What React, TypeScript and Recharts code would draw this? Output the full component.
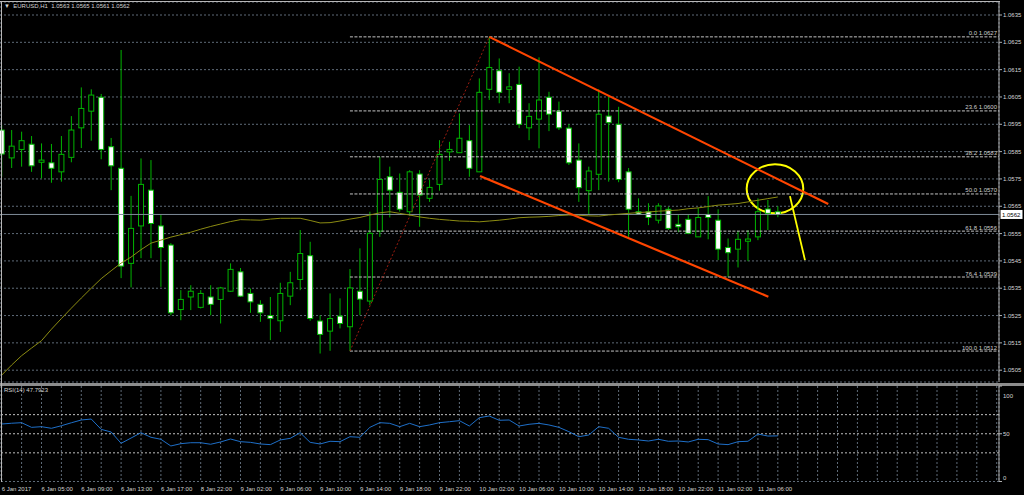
import React from 'react';
import {
  ComposedChart, Bar, Line, XAxis, YAxis, CartesianGrid,
  ReferenceLine, ReferenceDot, ReferenceArea,
} from 'recharts';

// ---------- data (EURUSD H1) ----------
const opens = [
  1.05929, 1.05827, 1.05858, 1.05877, 1.05811, 1.05809, 1.05776, 1.05829, 1.05937, 1.05998,
  1.06049, 1.05868, 1.05789, 1.05441, 1.05578, 1.05709, 1.05578, 1.05508, 1.05272, 1.05318,
  1.05280, 1.05318, 1.05309, 1.05339, 1.05410, 1.05331, 1.05291, 1.05250, 1.05231, 1.05321,
  1.05382, 1.05469, 1.05230, 1.05193, 1.05248, 1.05209, 1.05339, 1.05303, 1.05559, 1.05758,
  1.05701, 1.05630, 1.05768, 1.05679, 1.05730, 1.05849, 1.05846, 1.05890, 1.05776, 1.06078,
  1.06146, 1.06078, 1.06096, 1.05937, 1.05969, 1.06049, 1.05998, 1.05936, 1.05819, 1.05707,
  1.05767, 1.05980, 1.05950, 1.05776, 1.05630, 1.05630, 1.05599, 1.05639, 1.05584, 1.05602,
  1.05538, 1.05620, 1.05599, 1.05499, 1.05493, 1.05522, 1.05538, 1.05640, 1.05630,
];
const highs = [
  1.05947, 1.05929, 1.05923, 1.05907, 1.05880, 1.05878, 1.05907, 1.05980, 1.06085, 1.06078,
  1.06061, 1.05900, 1.06222, 1.05688, 1.05825, 1.05819, 1.05618, 1.05515, 1.05343, 1.05361,
  1.05343, 1.05361, 1.05355, 1.05441, 1.05424, 1.05349, 1.05306, 1.05318, 1.05370, 1.05410,
  1.05563, 1.05520, 1.05251, 1.05331, 1.05313, 1.05420, 1.05496, 1.05630, 1.05831, 1.05795,
  1.05770, 1.05782, 1.05782, 1.05748, 1.05892, 1.05886, 1.05990, 1.05947, 1.06118, 1.06270,
  1.06191, 1.06137, 1.06161, 1.06027, 1.06195, 1.06069, 1.06033, 1.05951, 1.05880, 1.05795,
  1.06078, 1.06051, 1.06014, 1.05790, 1.05679, 1.05661, 1.05661, 1.05648, 1.05618, 1.05618,
  1.05644, 1.05687, 1.05639, 1.05532, 1.05559, 1.05563, 1.05679, 1.05673, 1.05650,
];
const lows = [
  1.05758, 1.05790, 1.05795, 1.05776, 1.05752, 1.05736, 1.05740, 1.05811, 1.05863, 1.05890,
  1.05822, 1.05709, 1.05387, 1.05353, 1.05460, 1.05460, 1.05355, 1.05251, 1.05233, 1.05270,
  1.05276, 1.05251, 1.05221, 1.05337, 1.05318, 1.05260, 1.05227, 1.05160, 1.05190, 1.05288,
  1.05343, 1.05231, 1.05111, 1.05121, 1.05203, 1.05120, 1.05251, 1.05288, 1.05538, 1.05609,
  1.05630, 1.05614, 1.05575, 1.05666, 1.05707, 1.05816, 1.05845, 1.05758, 1.05775, 1.06039,
  1.06027, 1.06027, 1.05936, 1.05892, 1.05862, 1.05925, 1.05929, 1.05801, 1.05666, 1.05618,
  1.05709, 1.05740, 1.05738, 1.05538, 1.05618, 1.05581, 1.05587, 1.05563, 1.05555, 1.05548,
  1.05538, 1.05529, 1.05453, 1.05392, 1.05426, 1.05449, 1.05526, 1.05563, 1.05610,
];
const closes = [
  1.05841, 1.05870, 1.05890, 1.05798, 1.05819, 1.05789, 1.05840, 1.05929, 1.06008, 1.06057,
  1.05858, 1.05798, 1.05431, 1.05569, 1.05730, 1.05587, 1.05499, 1.05260, 1.05309, 1.05339,
  1.05331, 1.05291, 1.05351, 1.05419, 1.05321, 1.05300, 1.05260, 1.05239, 1.05331, 1.05370,
  1.05477, 1.05239, 1.05181, 1.05239, 1.05221, 1.05351, 1.05310, 1.05551, 1.05748, 1.05709,
  1.05639, 1.05776, 1.05691, 1.05719, 1.05840, 1.05858, 1.05899, 1.05789, 1.06067, 1.06158,
  1.06067, 1.06087, 1.05950, 1.05979, 1.06039, 1.05987, 1.05937, 1.05809, 1.05718, 1.05779,
  1.05987, 1.05956, 1.05748, 1.05639, 1.05621, 1.05609, 1.05651, 1.05569, 1.05575, 1.05551,
  1.05609, 1.05609, 1.05493, 1.05480, 1.05529, 1.05530, 1.05630, 1.05624, 1.05620,
];
const maValues = [
  1.05032, 1.05069, 1.05103, 1.05131, 1.05158, 1.05200, 1.05239, 1.05277, 1.05314, 1.05350,
  1.05385, 1.05414, 1.05442, 1.05464, 1.05491, 1.05515, 1.05526, 1.05537, 1.05546, 1.05555,
  1.05566, 1.05576, 1.05585, 1.05594, 1.05601, 1.05600, 1.05599, 1.05603, 1.05606, 1.05606,
  1.05606, 1.05598, 1.05589, 1.05590, 1.05596, 1.05603, 1.05609, 1.05618, 1.05626, 1.05630,
  1.05624, 1.05618, 1.05611, 1.05606, 1.05602, 1.05599, 1.05596, 1.05595, 1.05593, 1.05596,
  1.05599, 1.05603, 1.05608, 1.05610, 1.05611, 1.05613, 1.05616, 1.05618, 1.05617, 1.05615,
  1.05614, 1.05618, 1.05621, 1.05624, 1.05627, 1.05629, 1.05632, 1.05634, 1.05636, 1.05641,
  1.05644, 1.05649, 1.05654, 1.05657, 1.05660, 1.05666, 1.05672, 1.05678, 1.05684,
];
const rsiValues = [
  60.2, 61.0, 61.6, 56.7, 57.4, 55.7, 58.4, 61.5, 64.4, 65.4,
  54.6, 51.8, 40.0, 45.5, 51.1, 46.3, 44.2, 37.2, 39.6, 40.6,
  40.6, 39.0, 41.4, 44.5, 41.7, 41.0, 39.3, 38.6, 43.5, 45.2,
  51.1, 41.0, 39.3, 42.1, 41.7, 46.9, 46.3, 56.7, 61.6, 60.9,
  57.4, 60.9, 57.4, 59.2, 61.6, 62.6, 63.7, 58.1, 66.8, 68.6,
  64.1, 64.4, 58.1, 59.9, 60.9, 59.2, 56.7, 52.2, 46.9, 48.7,
  57.4, 55.7, 46.3, 44.2, 43.5, 42.4, 44.2, 42.1, 42.4, 41.4,
  44.2, 43.8, 39.3, 38.6, 41.7, 42.1, 49.7, 47.6, 47.79,
];
const timeLabels = [
  '6 Jan 2017', '6 Jan 05:00', '6 Jan 09:00', '6 Jan 13:00', '6 Jan 17:00',
  '8 Jan 22:00', '9 Jan 02:00', '9 Jan 06:00', '9 Jan 10:00', '9 Jan 14:00',
  '9 Jan 18:00', '9 Jan 22:00', '10 Jan 02:00', '10 Jan 06:00', '10 Jan 10:00',
  '10 Jan 14:00', '10 Jan 18:00', '10 Jan 22:00', '11 Jan 02:00', '11 Jan 06:00',
];
const timeLabelBars = [0, 4, 8, 12, 16, 20, 24, 28, 32, 36, 40, 44, 48, 52, 56, 60, 64, 68, 72, 76];
const priceTicks = [1.0505, 1.0515, 1.0525, 1.0535, 1.0545, 1.0555, 1.0565, 1.0575, 1.0585, 1.0595, 1.0605, 1.0615, 1.0625, 1.0635];
const gridBars = [0, 2, 4, 6, 8, 10, 12, 14, 16, 18, 20, 22, 24, 26, 28, 30, 32, 34, 36, 38, 40, 42, 44, 46, 48, 50,
  52, 54, 56, 58, 60, 62, 64, 66, 68, 70, 72, 74, 76, 78, 80, 82, 84, 86, 88, 90, 92, 94, 96, 98, 100];
const rsiTicks = [0, 30, 50, 70, 100];
const rsiLevels = [70, 50, 30];

// Fibonacci retracement (from bar 35 low to bar 49 high)
const fibStartBar = 35;
const fibEndBar = 49;
const fibLevelNames = ['0.0', '23.6', '38.2', '50.0', '61.8', '76.4', '100.0'];
const fibLevelPrices = [1.0627, 1.05999, 1.05831, 1.05695, 1.05559, 1.05391, 1.0512];
const fibLevelTexts = ['1.0627', '1.0600', '1.0583', '1.0570', '1.0556', '1.0539', '1.0512'];

// hand-drawn objects (bar index, price)
const upperTrend = [{ x: 49, y: 1.0627 }, { x: 83.07, y: 1.05658 }];
const lowerTrend = [{ x: 48.07, y: 1.05761 }, { x: 77.05, y: 1.05319 }];
const ellipseBox = { x1: 74.87, x2: 80.56, y1: 1.05624, y2: 1.05804 };
const arrowLine = [{ x: 79.22, y: 1.05687 }, { x: 80.73, y: 1.05453 }];

const lastQuote = ['1.0563', '1.0565', '1.0561', '1.0562'];
const lastPrice = 1.0562;
const rsiTitle = 'RSI(14) 47.7923';

const XMIN = -0.17;
const XMAX = 100.23;
const PMIN = 1.050068;
const PMAX = 1.063976;

const rows = opens.map((o, i) => ({
  idx: i,
  open: o,
  high: highs[i],
  low: lows[i],
  close: closes[i],
  range: [lows[i], highs[i]],
  ma: maValues[i],
  rsi: rsiValues[i],
}));

const labelAt: Record<number, string> = {};
timeLabelBars.forEach((b, i) => { labelAt[b] = timeLabels[i]; });

const FONT = '"Liberation Sans", Arial, sans-serif';
const TXT = '#d4d4d4';
const GRID = '#5f6b78';
const CANDLE_LINE = '#00b400';

const Candle = (props: any) => {
  const { x, y, width, height, payload } = props;
  if (!payload || x == null || y == null) return null;
  const cx = x + width / 2;
  const top = Math.min(y, y + height);
  const bot = Math.max(y, y + height);
  const span = payload.high - payload.low || 1e-9;
  const toPx = (v: number) => top + ((payload.high - v) / span) * (bot - top);
  const yo = toPx(payload.open);
  const yc = toPx(payload.close);
  const bull = payload.close >= payload.open;
  const bt = Math.min(yo, yc);
  const bb = Math.max(yo, yc);
  const bw = 5;
  return (
    <g>
      <line x1={cx} x2={cx} y1={top} y2={bot} stroke={CANDLE_LINE} strokeWidth={1} />
      <rect x={cx - bw / 2} y={bt} width={bw} height={Math.max(bb - bt, 0.8)}
        fill={bull ? '#000000' : '#ffffff'} stroke={CANDLE_LINE} strokeWidth={1} />
    </g>
  );
};

const TimeTick = (props: any) => {
  const { x, y, payload } = props;
  const label = labelAt[payload.value];
  if (!label) return <g />;
  return (
    <text x={x} y={y + 6} fill={TXT} fontSize={6} fontFamily={FONT} textAnchor="start">{label}</text>
  );
};

const RsiTick = (props: any) => {
  const { x, y, payload } = props;
  const v = payload.value;
  const dy = v === 100 ? 3.3 : v === 0 ? -3.8 : 0;
  return (
    <text x={x} y={y + dy} dy="0.35em" fill={TXT} fontSize={6} fontFamily={FONT} textAnchor="start">{v}</text>
  );
};

export default function App() {
  return (
    <div style={{ position: 'absolute', left: 0, top: 0, width: 1024, height: 495, background: '#000', overflow: 'hidden', fontFamily: FONT }}>
      {/* main price chart */}
      <div style={{ position: 'absolute', left: 0, top: 0 }}>
        <ComposedChart width={1024} height={384} data={rows} margin={{ top: 2, right: 0, bottom: 2, left: 0 }}>
          <CartesianGrid stroke={GRID} strokeDasharray="2 2" />
          <XAxis dataKey="idx" type="number" domain={[XMIN, XMAX]} allowDataOverflow ticks={gridBars}
            height={0} tick={false} tickLine={false} axisLine={false} />
          <YAxis orientation="right" type="number" domain={[PMIN, PMAX]} allowDataOverflow ticks={priceTicks}
            width={25} tickSize={3} tickMargin={1} stroke="#b0b0b0"
            tick={{ fill: TXT, fontSize: 6, fontFamily: FONT }}
            tickFormatter={(v: number) => v.toFixed(4)} />
          {/* Fibonacci levels */}
          {fibLevelPrices.map((p, i) => (
            <ReferenceLine key={'fib' + i} segment={[{ x: fibStartBar, y: p }, { x: XMAX, y: p }]}
              stroke="#c4c4c4" strokeDasharray="3 1.5" ifOverflow="visible" />
          ))}
          <ReferenceLine segment={[{ x: fibStartBar, y: fibLevelPrices[6] }, { x: fibEndBar, y: fibLevelPrices[0] }]}
            stroke="#9a1c10" strokeDasharray="2 2" ifOverflow="visible" />
          {/* bid line */}
          <ReferenceLine y={lastPrice} stroke="#7f8b98" strokeWidth={1} />
          <Line dataKey="ma" stroke="#8c8c12" strokeWidth={1} dot={false} isAnimationActive={false} />
          <Bar dataKey="range" barSize={6} shape={<Candle />} isAnimationActive={false} />
          {/* trend channel */}
          <ReferenceLine segment={upperTrend} stroke="#ff4500" strokeWidth={2.2} ifOverflow="visible" />
          <ReferenceLine segment={lowerTrend} stroke="#ff4500" strokeWidth={2.2} ifOverflow="visible" />
          <ReferenceArea x1={ellipseBox.x1} x2={ellipseBox.x2} y1={ellipseBox.y1} y2={ellipseBox.y2}
            ifOverflow="visible"
            shape={(p: any) => (
              <ellipse cx={p.x + p.width / 2} cy={p.y + p.height / 2} rx={Math.abs(p.width) / 2}
                ry={Math.abs(p.height) / 2} fill="none" stroke="#ffff00" strokeWidth={2} />
            )} />
          <ReferenceLine segment={arrowLine} stroke="#ffff00" strokeWidth={1.8} ifOverflow="visible" />
          {/* fib labels */}
          {fibLevelPrices.map((p, i) => (
            <ReferenceDot key={'fl' + i} x={XMAX} y={p} r={0} ifOverflow="visible"
              shape={(d: any) => (
                <text x={d.cx - 2} y={d.cy - 1.5} fill="#cfcfcf" fontSize={6} fontFamily={FONT} textAnchor="end">
                  {fibLevelNames[i] + ' ' + fibLevelTexts[i]}
                </text>
              )} />
          ))}
          {/* current price box */}
          <ReferenceDot x={XMAX} y={lastPrice} r={0} ifOverflow="visible"
            shape={(d: any) => (
              <g>
                <rect x={d.cx + 1.5} y={d.cy - 4.5} width={22} height={9} fill="#ffffff" />
                <text x={d.cx + 3} y={d.cy} dy="0.35em" fill="#000" fontSize={6} fontFamily={FONT}>{lastQuote[3]}</text>
              </g>
            )} />
        </ComposedChart>
      </div>

      {/* separator */}
      <div style={{ position: 'absolute', left: 0, top: 382.5, width: 1024, height: 3, background: '#8c8c8c' }} />

      {/* RSI panel */}
      <div style={{ position: 'absolute', left: 0, top: 384 }}>
        <ComposedChart width={1024} height={111} data={rows} margin={{ top: 2, right: 0, bottom: 0, left: 0 }}>
          <CartesianGrid stroke={GRID} strokeDasharray="2 2" horizontal={false} />
          <XAxis dataKey="idx" type="number" domain={[XMIN, XMAX]} allowDataOverflow ticks={gridBars}
            height={13.5} tickSize={3} tickMargin={0} tickLine={false} axisLine={false} tick={<TimeTick />} interval={0} />
          <YAxis orientation="right" type="number" domain={[0, 100]} allowDataOverflow ticks={rsiTicks}
            width={25} tickSize={3} tickMargin={1} stroke="#b0b0b0" tick={<RsiTick />} />
          <ReferenceLine y={0} stroke={GRID} strokeDasharray="2 2" />
          {rsiLevels.map((l) => (
            <ReferenceLine key={'lv' + l} y={l} stroke="#c0c0c0" strokeDasharray="2 2" />
          ))}
          <Line dataKey="rsi" stroke="#1e6fc8" strokeWidth={1} dot={false} isAnimationActive={false} />
        </ComposedChart>
      </div>

      {/* borders */}
      <div style={{ position: 'absolute', left: 0, top: 1, width: 1000, height: 1, background: '#b8b8b8' }} />
      <div style={{ position: 'absolute', left: 1, top: 1, width: 1, height: 481, background: '#b8b8b8' }} />

      {/* titles */}
      <div style={{ position: 'absolute', left: 4, top: 2.5, fontSize: 6, color: TXT, whiteSpace: 'pre', lineHeight: '7px' }}>
        {'\u25BC  EURUSD,H1  ' + lastQuote.join(' ')}
      </div>
      <div style={{ position: 'absolute', left: 4, top: 387, fontSize: 6, color: TXT, whiteSpace: 'pre', lineHeight: '7px' }}>
        {rsiTitle}
      </div>
    </div>
  );
}
